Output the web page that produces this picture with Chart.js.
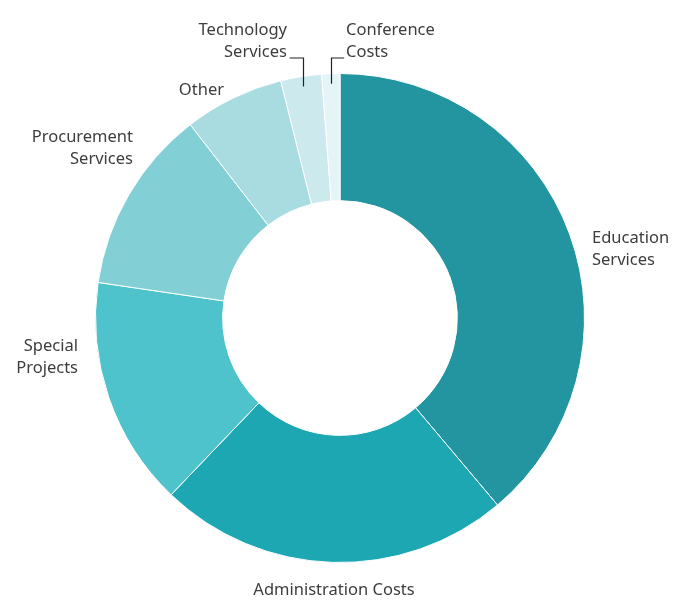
<!DOCTYPE html>
<html>
<head>
<meta charset="utf-8">
<script src="https://cdn.jsdelivr.net/npm/chart.js@4"></script>
<style>
  html, body { margin: 0; padding: 0; background: #fff; }
  #wrap { width: 687px; height: 601px; }
</style>
</head>
<body>
<div id="wrap"><canvas id="budgetchart" width="687" height="601"></canvas></div>
<script>
const categories = ['Education Services', 'Administration Costs', 'Special Projects', 'Procurement Services', 'Other', 'Technology Services', 'Conference Costs'];
const shares = [38.9, 23.3, 15.2, 12.2, 6.6, 2.7, 1.2];
const colours = ['#2295a0', '#1ca7b3', '#4ec3cb', '#82d0d6', '#a8dce1', '#cce9ee', '#e5f4f6'];

// text lines + where they sit, plus leader lines for the thin slices
const labelLayout = [
  { lines: ['Education', 'Services'], x: 592, y: 238, align: 'left' },
  { lines: ['Administration Costs'], x: 334, y: 590, align: 'center' },
  { lines: ['Special', 'Projects'], x: 78, y: 346, align: 'right' },
  { lines: ['Procurement', 'Services'], x: 133, y: 137, align: 'right' },
  { lines: ['Other'], x: 224, y: 90, align: 'right' },
  { lines: ['Technology', 'Services'], x: 287, y: 30, align: 'right', leader: 'left' },
  { lines: ['Conference', 'Costs'], x: 346, y: 30, align: 'left', leader: 'right' }
];

const outsideLabels = {
  id: 'outsideLabels',
  afterDraw(chart) {
    const ctx = chart.ctx;
    const meta = chart.getDatasetMeta(0);
    ctx.save();
    ctx.font = '16.5px "Noto Sans", sans-serif';
    ctx.fillStyle = '#3d3d3d';
    ctx.textBaseline = 'middle';
    labelLayout.forEach((lab, i) => {
      ctx.textAlign = lab.align;
      lab.lines.forEach((t, k) => ctx.fillText(t, lab.x, lab.y + k * 22));
      if (lab.leader) {
        const arc = meta.data[i];
        const mid = (arc.startAngle + arc.endAngle) / 2;
        const px = arc.x + Math.cos(mid) * (arc.outerRadius - 10);
        const py = arc.y + Math.sin(mid) * (arc.outerRadius - 10);
        const ly = lab.y + 28;
        ctx.strokeStyle = '#222';
        ctx.lineWidth = 1.2;
        ctx.beginPath();
        ctx.moveTo(Math.round(px) + 0.5, py);
        ctx.lineTo(Math.round(px) + 0.5, ly);
        ctx.lineTo(lab.leader === 'left' ? px - 13 : px + 13, ly);
        ctx.stroke();
      }
    });
    ctx.restore();
  }
};

const budgetdata = {
  labels: categories,
  datasets: [{
    data: shares,
    backgroundColor: colours,
    borderColor: '#ffffff',
    borderWidth: 1
  }]
};

const budgetconfig = {
  type: 'doughnut',
  data: budgetdata,
  options: {
    responsive: false,
    animation: false,
    cutout: '48%',
    layout: { padding: { top: 73, bottom: 38, left: 95, right: 102 } },
    plugins: {
      legend: { display: false },
      tooltip: { enabled: false }
    }
  },
  plugins: [outsideLabels]
};

const budgetchart = new Chart(document.getElementById('budgetchart'), budgetconfig);
</script>
</body>
</html>
